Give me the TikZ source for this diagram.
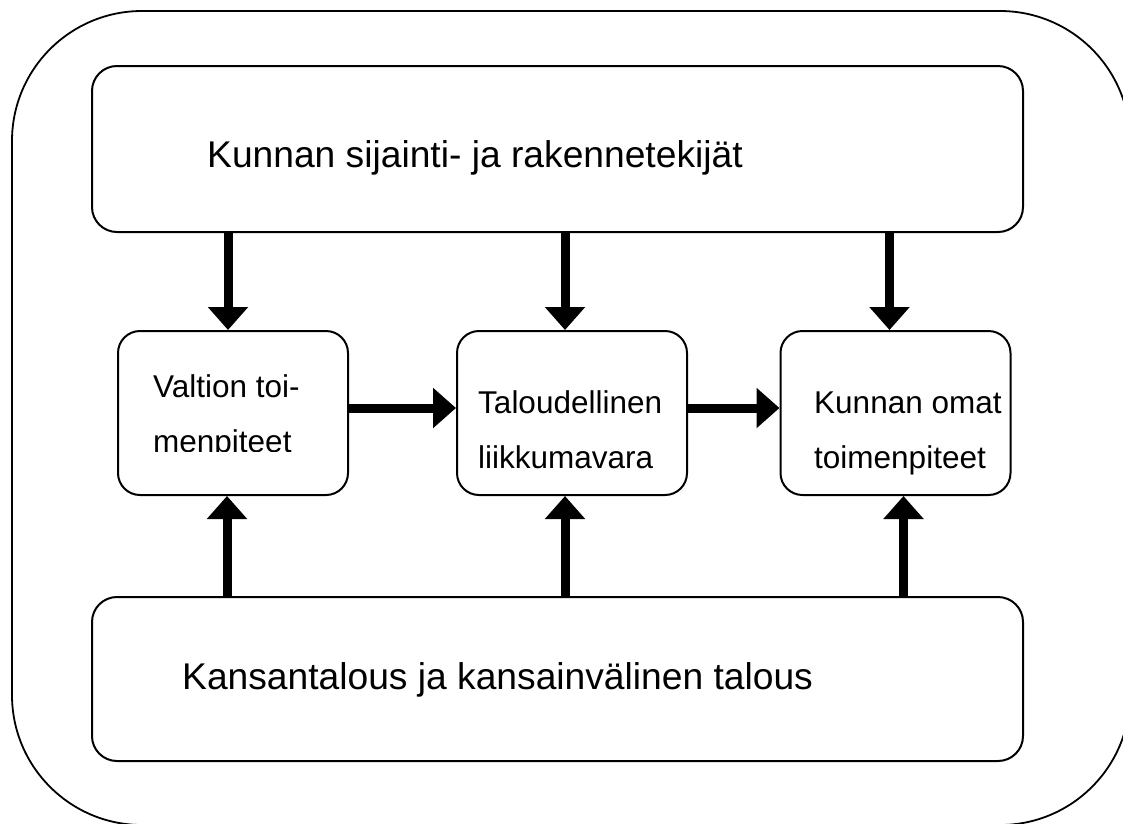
\documentclass[tikz,border=0pt]{standalone}
\usepackage{fontspec}
\setmainfont{Liberation Sans}
\usetikzlibrary{arrows.meta}

\begin{document}
\begin{tikzpicture}[x=1pt,y=-1pt,
  bigbox/.style={draw,line width=2pt,rounded corners=25pt,minimum width=931pt,inner sep=0pt},
  smallbox/.style={draw,line width=2pt,rounded corners=22pt,minimum width=230pt,minimum height=164pt,inner sep=0pt},
  bigtext/.style={anchor=base west,inner sep=0pt,font=\fontsize{37.2}{44}\selectfont},
  boxtext/.style={anchor=base west,inner sep=0pt,align=left,font=\fontsize{31.5}{55}\selectfont},
  flow/.style={line width=9pt,-{Triangle[width=39pt,length=23pt]}}]

\useasboundingbox (0,0) rectangle (1123,823);
\clip (0,0) rectangle (1123,823);

% outer frame
\draw [line width=1.8pt,rounded corners=130pt] (12,11) rectangle (1130,825);

% boxes
\node [bigbox,minimum height=166pt] (sijainti) at (557.5,149) {};
\node [bigbox,minimum height=164pt] (talous) at (557.5,679) {};
\node [smallbox] (valtio) at (233,413) {};
\node [smallbox] (liikkuma) at (572,413) {};
\node [smallbox] (omat) at (895.5,413) {};

% texts (base = last line)
\node [bigtext] (sijaintiText) at (207,167) {Kunnan sijainti- ja rakennetekijät};
\node [bigtext] (talousText) at (182,689) {Kansantalous ja kansainvälinen talous};
\begin{scope}
\clip (118,331) rectangle (348,451.5);
\node [boxtext] (valtioText) at (153,452) {Valtion toi-\\menpiteet};
\end{scope}
\node [boxtext] (liikkumaText) at (478,468) {Taloudellinen\\liikkumavara};
\node [boxtext] (omatText) at (814,468) {Kunnan omat\\toimenpiteet};

% arrows down
\draw [flow] ([xshift=-5pt]valtio.north |- sijainti.south) -- ([xshift=-5pt]valtio.north);
\draw [flow] ([xshift=-7pt]liikkuma.north |- sijainti.south) -- ([xshift=-7pt]liikkuma.north);
\draw [flow] ([xshift=-6pt]omat.north |- sijainti.south) -- ([xshift=-6pt]omat.north);

% arrows up
\draw [flow] ([xshift=-6pt]valtio.south |- talous.north) -- ([xshift=-6pt]valtio.south);
\draw [flow] ([xshift=-7pt]liikkuma.south |- talous.north) -- ([xshift=-7pt]liikkuma.south);
\draw [flow] ([xshift=8pt]omat.south |- talous.north) -- ([xshift=8pt]omat.south);

% arrows right
\draw [flow] ([yshift=5pt]valtio.east) -- ([yshift=5pt]liikkuma.west);
\draw [flow] ([yshift=5pt]liikkuma.east) -- ([yshift=5pt]omat.west);

\end{tikzpicture}
\end{document}
